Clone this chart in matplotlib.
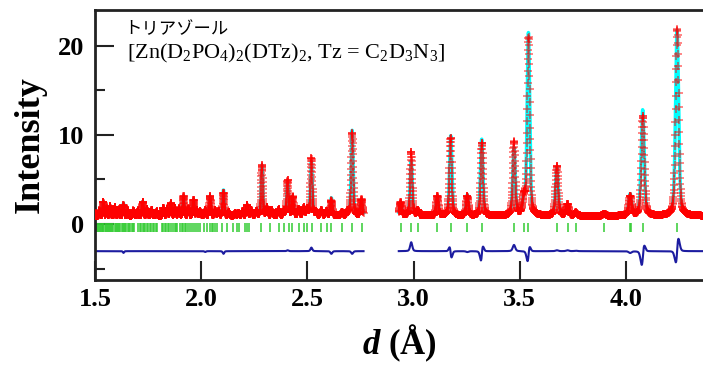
import numpy as np
import matplotlib
matplotlib.use('Agg')
from matplotlib import pyplot as plt

plt.rcParams['mathtext.fontset'] = 'custom'
plt.rcParams['mathtext.rm'] = 'Liberation Serif'
plt.rcParams['mathtext.it'] = 'Liberation Serif:italic'
plt.rcParams['mathtext.bf'] = 'Liberation Serif:bold'
plt.rcParams['mathtext.bfit'] = 'Liberation Serif:italic:bold'

# peak list: position (d), calc height, obs height, obs shift
peak_d = [1.520, 1.539, 1.555, 1.571, 1.594, 1.612, 1.634, 1.655, 1.681, 1.702,
          1.725, 1.745, 1.767, 1.791, 1.822, 1.840, 1.857, 1.877, 1.895, 1.917,
          1.940, 1.964, 1.980, 1.995, 2.019, 2.042, 2.066, 2.082, 2.105, 2.130,
          2.160, 2.176, 2.195, 2.216, 2.236, 2.260, 2.286, 2.310, 2.333, 2.365,
          2.390, 2.407, 2.431, 2.459, 2.483, 2.499, 2.519, 2.540, 2.566, 2.590,
          2.613, 2.663, 2.690, 2.711, 2.755,
          2.939, 2.989, 3.020, 3.112, 3.175, 3.253, 3.321, 3.473, 3.520, 3.541,
          3.675, 3.725, 3.764, 3.898, 4.020, 4.079, 4.241]
calc_h = [0.6, 1.6, 0.8, 1.1, 1.0, 0.7, 1.4, 0.6, 0.6, 0.6,
          1.6, 0.8, 0.7, 0.5, 0.9, 0.7, 1.4, 0.9, 0.8, 2.2,
          0.8, 1.8, 0.6, 0.5, 0.7, 2.2, 0.6, 0.5, 2.9, 0.4,
          0.3, 0.3, 0.5, 1.2, 0.6, 0.5, 5.7, 0.9, 0.6, 0.7,
          0.5, 3.9, 2.1, 0.7, 0.9, 0.7, 6.1, 0.4, 0.6, 0.5,
          2.0, 0.4, 0.4, 9.6, 1.8,
          1.5, 6.2, 0.6, 2.2, 9.0, 2.3, 8.6, 7.6, 1.8, 20.5,
          5.5, 1.2, 0.3, 0.25, 2.4, 11.9, 20.9]
obs_h = [0.6, 1.6, 0.8, 1.1, 1.0, 0.7, 1.2, 0.6, 0.6, 0.6,
         1.6, 0.8, 0.7, 0.5, 0.9, 0.7, 1.4, 0.9, 0.8, 2.2,
         0.8, 1.8, 0.6, 0.5, 0.6, 2.2, 0.6, 0.5, 2.6, 0.4,
         0.3, 0.3, 0.5, 1.2, 0.6, 0.5, 5.7, 0.9, 0.6, 0.7,
         0.5, 4.0, 2.1, 0.7, 0.9, 0.7, 6.5, 0.4, 0.6, 0.5,
         1.7, 0.4, 0.4, 9.3, 1.8,
         1.5, 7.2, 0.6, 2.2, 8.8, 2.2, 8.2, 8.3, 1.8, 20.0,
         5.6, 1.3, 0.35, 0.25, 2.2, 11.2, 21.0]
obs_shift = [0.0] * 55 + [0.0, 0.0, 0.0, 0.0, -0.0006, 0.0, 0.0009, 0.0, 0.0, 0.0004,
                          0.0, 0.0, 0.0, 0.0, 0.0, 0.0011, 0.0008]

# reflection positions (tick marks)
refl_d = [1.503, 1.508, 1.513, 1.518, 1.522, 1.527, 1.531, 1.536, 1.540, 1.546,
          1.551, 1.556, 1.560, 1.566, 1.571, 1.576, 1.581, 1.587, 1.593, 1.598,
          1.604, 1.610, 1.615, 1.620, 1.626, 1.632, 1.637, 1.643, 1.648, 1.654,
          1.660, 1.667, 1.673, 1.679, 1.685,
          1.704, 1.712, 1.718, 1.724, 1.730, 1.737, 1.744, 1.750, 1.757, 1.764,
          1.771, 1.778, 1.785, 1.791,
          1.815, 1.822, 1.829, 1.836, 1.843, 1.850, 1.857, 1.866, 1.875, 1.882, 1.888,
          1.901, 1.908, 1.915, 1.922, 1.930, 1.940, 1.948, 1.957, 1.966, 1.975,
          1.985, 1.995, 2.011, 2.027, 2.042, 2.050, 2.058, 2.066, 2.074, 2.098,
          2.121, 2.152, 2.168, 2.176, 2.208, 2.216, 2.226, 2.283, 2.325, 2.365,
          2.392, 2.412, 2.428, 2.459, 2.483, 2.499, 2.522, 2.566, 2.593, 2.612,
          2.663, 2.711, 2.755,
          2.939, 2.989, 3.020, 3.112, 3.175, 3.253, 3.321, 3.473, 3.520, 3.541,
          3.675, 3.725, 3.764, 3.898, 4.020, 4.026, 4.079, 4.241]

background = 0.9
diff_offset = -3.05
gap = (2.765, 2.930)


def profile(d, pos, h, shift):
    y = np.full_like(d, background)
    for p, a, s in zip(pos, h, shift):
        fwhm = 0.004 * p
        x = (d - p - s) / fwhm
        gauss = np.exp(-4 * np.log(2) * x ** 2)
        lor = 1 / (1 + 4 * x ** 2)
        y += a * (0.4 * lor + 0.6 * gauss)
    return y


d = np.exp(np.arange(np.log(1.5), np.log(4.37), 0.00022))
calc = profile(d, peak_d, calc_h, [0.0] * len(peak_d))
obs = profile(d, peak_d, obs_h, obs_shift)
diff = obs - calc + diff_offset
mask = (d > gap[0]) & (d < gap[1])
calc[mask] = np.nan
obs[mask] = np.nan
diff[mask] = np.nan

fig = plt.figure(figsize=(7.03, 3.67), dpi=100)
ax = fig.add_axes([95 / 703, 87 / 367, 608 / 703, 270 / 367])

ax.plot(d, calc, color='cyan', lw=2.5, zorder=2)
ax.plot(d, obs, ls='none', marker='+', ms=6, mew=1.1, color='red', alpha=0.6, zorder=3)
ax.vlines(refl_d, -0.95, 0.1, color='#33cc33', lw=1.1, zorder=2)
ax.plot(d, diff, color='#1c1ca0', lw=1.5, zorder=2)

ax.set_xlim(1.5, 4.363)
ax.set_ylim(-6.29, 24.04)
ax.set_xticks([1.5, 2.0, 2.5, 3.0, 3.5, 4.0])
ax.set_xticklabels(['1.5', '2.0', '2.5', '3.0', '3.5', '4.0'])
ax.set_yticks([0, 10, 20])
ax.set_yticks([-5, 5, 15], minor=True)

for side in ['left', 'top', 'bottom']:
    ax.spines[side].set_linewidth(2)
    ax.spines[side].set_color('#222222')
ax.spines['right'].set_visible(False)

ax.tick_params(axis='both', which='major', direction='in', length=14, width=1.5,
               color='#222222', labelsize=19)
ax.tick_params(axis='y', which='minor', direction='in', length=7, width=1.5, color='#222222')
ax.tick_params(axis='y', which='major', pad=8)
ax.tick_params(axis='x', which='major', pad=6)
for lab in ax.get_xticklabels() + ax.get_yticklabels():
    lab.set_family('Liberation Serif')
    lab.set_fontweight('bold')

ax.set_ylabel('Intensity', family='Liberation Serif', fontweight='bold', fontsize=26, labelpad=8)
ax.set_xlabel(r'$\mathbfit{d}$ (Å)', family='Liberation Serif', fontweight='bold', fontsize=25, labelpad=8)

fig.text(124 / 703, 1 - 29 / 367, 'トリアゾール', family=['Noto Sans CJK JP', 'DejaVu Sans'],
         fontsize=12.5, va='center', ha='left')
fig.text(127 / 703, 1 - 53 / 367, r'[Zn(D$_2$PO$_4$)$_2$(DTz)$_2$, Tz = C$_2$D$_3$N$_3$]',
         family='Liberation Serif', fontsize=16, va='center', ha='left')

fig.savefig('out.png', dpi=100)
plt.close(fig)
